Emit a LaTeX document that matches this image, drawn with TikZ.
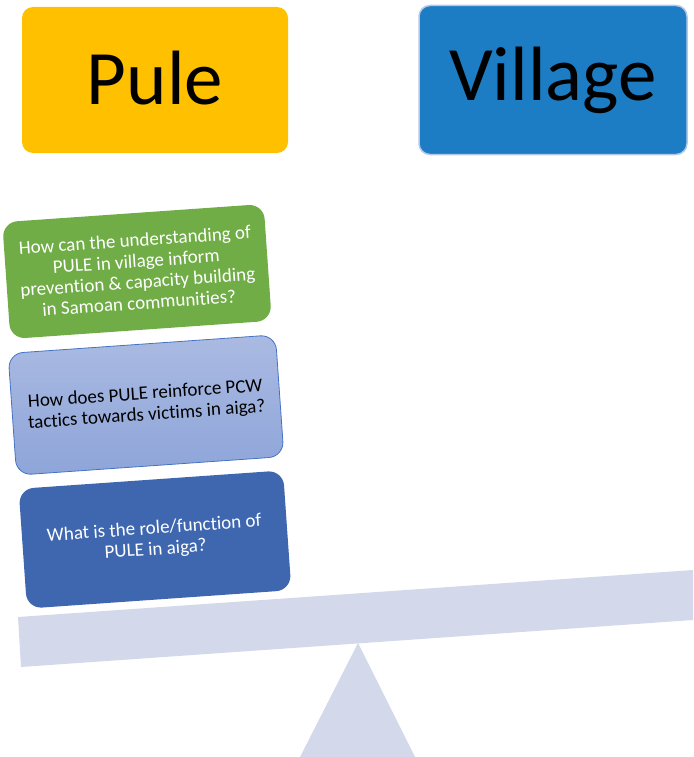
\documentclass[tikz,border=0pt]{standalone}
\usepackage{fontspec}
\setmainfont[Ligatures=NoCommon]{Carlito}
\definecolor{puleyellow}{HTML}{FFC000}
\definecolor{villageblue}{HTML}{1C7DC5}
\definecolor{villageedge}{HTML}{B4C7E7}
\definecolor{qgreen}{HTML}{70AD47}
\definecolor{qlighttop}{HTML}{AABAE2}
\definecolor{qlightbot}{HTML}{8EA5D9}
\definecolor{qlightedge}{HTML}{4472C4}
\definecolor{qdark}{HTML}{3F67B0}
\definecolor{seesaw}{HTML}{D3D9EB}
\begin{document}
\begin{tikzpicture}[x=1pt,y=-1pt,
  titlebox/.style={rounded corners=11pt, minimum width=266pt, minimum height=146pt,
    inner sep=0pt, font=\fontsize{77}{90}\selectfont},
  question/.style={rounded corners=15pt, rotate=4, inner sep=0pt, align=center,
    font=\fontsize{19}{21}\selectfont},
]
\useasboundingbox (0,0) rectangle (693,757);

% headings
\node[titlebox, fill=puleyellow] (pule) at (155,80) {\raisebox{4pt}{Pule}};
\node[titlebox, fill=villageblue, draw=villageedge, line width=1.5pt,
  minimum width=268pt, minimum height=149pt] (village) at (553,80) {\raisebox{4pt}{Village}};

% see-saw beam and fulcrum
\fill[seesaw] (18,617) -- (693,570) -- (693,620) -- (21,667) -- cycle;
\fill[seesaw] (358,643) -- (415,757) -- (300,757) -- cycle;

% stacked questions
\node[question, fill=qgreen, text=white, minimum width=262pt, minimum height=117pt]
  (q1) at (137,271.5)
  {How can the understanding of\\PULE in village inform\\prevention \& capacity building\\in Samoan communities?};
\node[question, top color=qlighttop, bottom color=qlightbot, draw=qlightedge, line width=0.8pt,
  text=black, minimum width=268pt, minimum height=122pt]
  (q2) at (146,405)
  {How does PULE reinforce PCW\\tactics towards victims in aiga?};
\node[question, fill=qdark, text=white, minimum width=265pt, minimum height=120pt]
  (q3) at (155,539.5)
  {What is the role/function of\\PULE in aiga?};
\end{tikzpicture}
\end{document}
